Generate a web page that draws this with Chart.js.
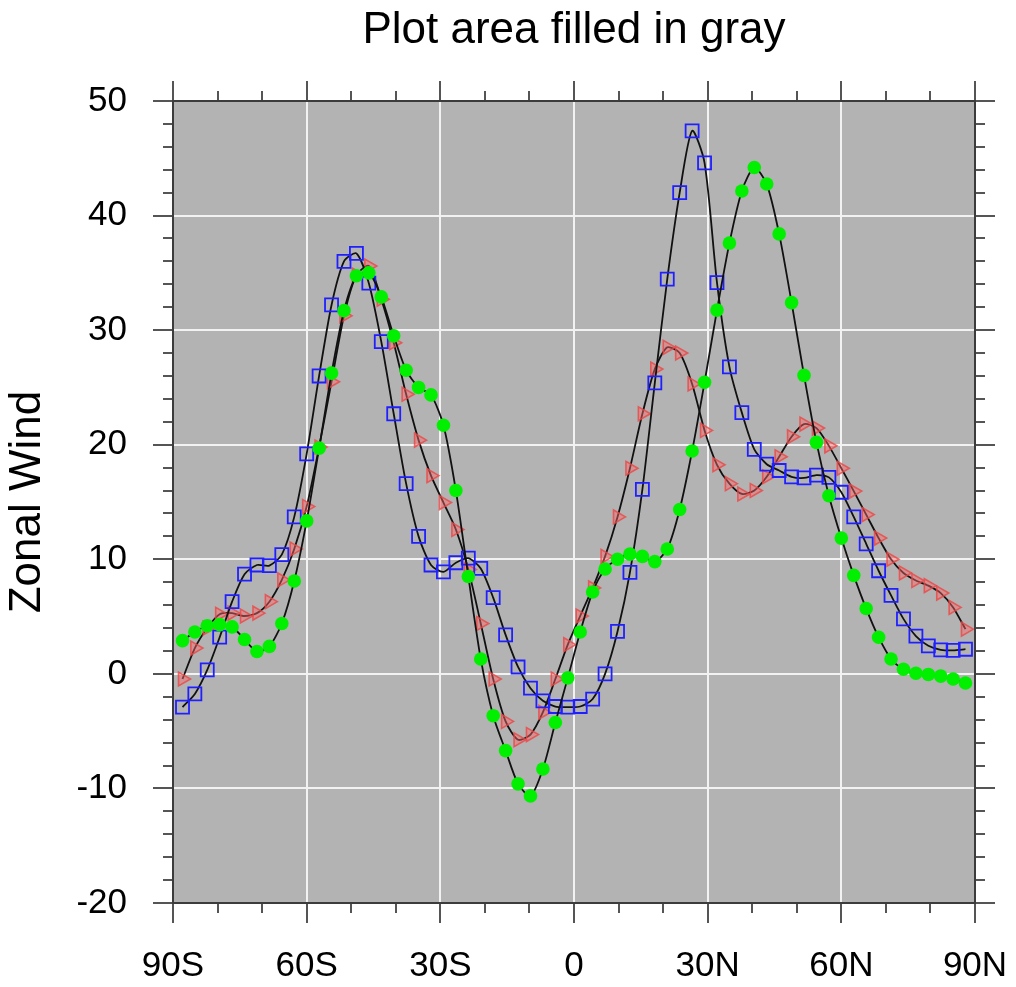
<!DOCTYPE html>
<html>
<head>
<meta charset="utf-8">
<script src="https://cdn.jsdelivr.net/npm/chart.js@4.4.1/dist/chart.umd.min.js"></script>
<style>
html,body{margin:0;padding:0;background:#ffffff;}
#wrap{width:1016px;height:987px;}
</style>
</head>
<body>
<div id="wrap"><canvas id="c" width="1016" height="987"></canvas></div>
<script>
// Gaussian latitudes (64 points)
const latitudes = [
 -87.8638,-85.0965,-82.3129,-79.5256,-76.7369,-73.9475,-71.1578,-68.3678,-65.5776,-62.7874,
 -59.9970,-57.2066,-54.4162,-51.6257,-48.8352,-46.0447,-43.2542,-40.4636,-37.6731,-34.8825,
 -32.0919,-29.3014,-26.5108,-23.7202,-20.9296,-18.1390,-15.3484,-12.5578,-9.7671,-6.9765,
 -4.1859,-1.3953,1.3953,4.1859,6.9765,9.7671,12.5578,15.3484,18.1390,20.9296,
 23.7202,26.5108,29.3014,32.0919,34.8825,37.6731,40.4636,43.2542,46.0447,48.8352,
 51.6257,54.4162,57.2066,59.9970,62.7874,65.5776,68.3678,71.1578,73.9475,76.7369,
 79.5256,82.3129,85.0965,87.8638
];

// Series 1: blue hollow squares
const windSquares = [
 -2.9,-1.75,0.35,3.2,6.3,8.7,9.5,9.45,10.4,13.7,
 19.2,26.0,32.2,36.0,36.7,34.1,29.0,22.7,16.6,12.0,
 9.5,8.9,9.7,10.1,9.2,6.65,3.4,0.6,-1.25,-2.35,
 -2.85,-2.9,-2.85,-2.2,0.0,3.7,8.85,16.1,25.4,34.45,
 42.0,47.4,44.6,34.15,26.8,22.8,19.6,18.3,17.75,17.2,
 17.1,17.35,17.15,15.85,13.7,11.35,9.0,6.85,4.8,3.3,
 2.45,2.1,2.05,2.15
];

// Series 2: green filled circles
const windCircles = [
 2.9,3.65,4.2,4.3,4.1,3.0,1.95,2.4,4.4,8.1,
 13.35,19.7,26.25,31.7,34.75,35.0,32.9,29.5,26.5,25.0,
 24.35,21.7,16.0,8.5,1.3,-3.65,-6.7,-9.6,-10.65,-8.3,
 -4.25,-0.35,3.65,7.15,9.15,10.0,10.45,10.25,9.8,10.9,
 14.35,19.45,25.45,31.75,37.6,42.15,44.2,42.75,38.4,32.4,
 26.05,20.2,15.55,11.85,8.6,5.7,3.2,1.3,0.4,0.05,
 -0.05,-0.2,-0.45,-0.8
];

// Series 3: red translucent triangles
const windTriangles = [
 -0.45,2.25,4.0,5.2,5.3,5.05,5.3,6.3,8.2,10.9,
 14.6,19.8,25.5,31.25,34.8,35.6,32.7,28.9,24.4,20.4,
 17.3,14.95,12.6,9.1,4.4,-0.45,-4.15,-5.75,-5.3,-3.35,
 -0.45,2.55,5.05,7.5,10.25,13.7,17.95,22.7,26.6,28.5,
 28.0,25.3,21.25,18.25,16.6,15.7,16.0,17.2,18.95,20.7,
 21.8,21.45,19.9,17.95,15.95,13.9,11.85,10.0,8.8,8.15,
 7.7,7.05,5.8,3.9
];

const xTickValues = [-90,-60,-30,0,30,60,90];
const xTickLabels = ['90S','60S','30S','0','30N','60N','90N'];
const xMinorTicks = [-80,-70,-50,-40,-20,-10,10,20,40,50,70,80];
const yTickValues = [-20,-10,0,10,20,30,40,50];
const yMinorTicks = [-18,-16,-14,-12,-8,-6,-4,-2,2,4,6,8,12,14,16,18,22,24,26,28,32,34,36,38,42,44,46,48];
const chartTitle = 'Plot area filled in gray';
const yAxisTitle = 'Zonal Wind';

const FONT = "'Liberation Sans', Arial, Helvetica, sans-serif";
const toPoints = arr => arr.map((v, i) => ({x: latitudes[i], y: v}));

const bgPlugin = {
  id: 'plotBg',
  beforeDraw(chart) {
    const {ctx, chartArea: a} = chart;
    ctx.save();
    ctx.fillStyle = '#b3b3b3';
    ctx.fillRect(a.left, a.top, a.right - a.left, a.bottom - a.top);
    ctx.restore();
  }
};

const framePlugin = {
  id: 'frameTicks',
  afterDraw(chart) {
    const {ctx, chartArea: a, scales: {x, y}} = chart;
    ctx.save();
    ctx.lineCap = 'butt';
    ctx.strokeStyle = '#555555';
    ctx.lineWidth = 2;
    const seg = (x1, y1, x2, y2) => { ctx.beginPath(); ctx.moveTo(x1, y1); ctx.lineTo(x2, y2); ctx.stroke(); };
    xTickValues.forEach(v => { const p = Math.round(x.getPixelForValue(v)); seg(p, a.bottom, p, a.bottom + 20); seg(p, a.top, p, a.top - 20); });
    xMinorTicks.forEach(v => { const p = Math.round(x.getPixelForValue(v)); seg(p, a.bottom, p, a.bottom + 10); seg(p, a.top, p, a.top - 10); });
    yTickValues.forEach(v => { const p = Math.round(y.getPixelForValue(v)); seg(a.left - 20, p, a.left, p); seg(a.right, p, a.right + 20, p); });
    yMinorTicks.forEach(v => { const p = Math.round(y.getPixelForValue(v)); seg(a.left - 10, p, a.left, p); seg(a.right, p, a.right + 10, p); });
    ctx.strokeStyle = '#3c3c3c';
    ctx.lineWidth = 2;
    ctx.strokeRect(a.left, a.top, a.right - a.left, a.bottom - a.top);
    // title centred over the plot area
    ctx.fillStyle = '#000000';
    ctx.font = '44px ' + FONT;
    ctx.textAlign = 'center';
    ctx.textBaseline = 'middle';
    ctx.fillText(chartTitle, (a.left + a.right) / 2, 31);
    ctx.restore();
  }
};

const gridColor = (lo, hi) => (c) => {
  const v = c.tick ? c.tick.value : null;
  return (v === lo || v === hi) ? 'rgba(0,0,0,0)' : '#f2f2f2';
};

const common = {
  borderColor: '#111111',
  borderWidth: 1.8,
  tension: 0.25,
  fill: false,
  pointHoverRadius: 0
};

new Chart(document.getElementById('c').getContext('2d'), {
  type: 'line',
  data: {
    datasets: [
      Object.assign({}, common, {
        label: 'circles', data: toPoints(windCircles), order: 0,
        pointStyle: 'circle', pointRadius: 6.8,
        pointBackgroundColor: '#00f000', pointBorderColor: '#00f000', pointBorderWidth: 0
      }),
      Object.assign({}, common, {
        label: 'squares', data: toPoints(windSquares), order: 1,
        pointStyle: 'rect', pointRadius: 9.2,
        pointBackgroundColor: 'rgba(0,0,0,0)', pointBorderColor: '#2020ff', pointBorderWidth: 1.8
      }),
      Object.assign({}, common, {
        label: 'triangles', data: toPoints(windTriangles), order: 2,
        pointStyle: 'triangle', pointRotation: 90, pointRadius: 8,
        pointBackgroundColor: 'rgba(255,105,105,0.45)', pointBorderColor: 'rgba(235,70,70,0.8)', pointBorderWidth: 1.6
      })
    ]
  },
  options: {
    responsive: false,
    animation: false,
    devicePixelRatio: 1,
    events: [],
    layout: {padding: {left: 0, right: 41, top: 101, bottom: 0}},
    plugins: {
      legend: {display: false},
      tooltip: {enabled: false},
      title: {display: false}
    },
    scales: {
      x: {
        type: 'linear', min: -90, max: 90, position: 'bottom',
        afterFit(s) { s.height = 84; s.paddingLeft = 0; s.paddingRight = 0; },
        afterBuildTicks(s) { s.ticks = xTickValues.map(v => ({value: v})); },
        ticks: {
          autoSkip: false, maxRotation: 0, minRotation: 0, padding: 42, color: '#000000',
          font: {family: FONT, size: 35},
          callback: (v) => { const i = xTickValues.indexOf(v); return i >= 0 ? xTickLabels[i] : ''; }
        },
        grid: {drawTicks: false, lineWidth: 2, color: gridColor(-90, 90)},
        border: {display: false}
      },
      y: {
        type: 'linear', min: -20, max: 50, position: 'left',
        afterFit(s) { s.width = 173; s.paddingTop = 0; s.paddingBottom = 0; },
        afterBuildTicks(s) { s.ticks = yTickValues.map(v => ({value: v})); },
        ticks: {padding: 46, color: '#000000', font: {family: FONT, size: 35}},
        grid: {drawTicks: false, lineWidth: 2, color: gridColor(-20, 50)},
        border: {display: false},
        title: {
          display: true, text: yAxisTitle, color: '#000000',
          font: {family: FONT, size: 44, weight: 'normal', lineHeight: 1.2},
          padding: {top: 1, bottom: 0}
        }
      }
    }
  },
  plugins: [bgPlugin, framePlugin]
});
</script>
</body>
</html>
